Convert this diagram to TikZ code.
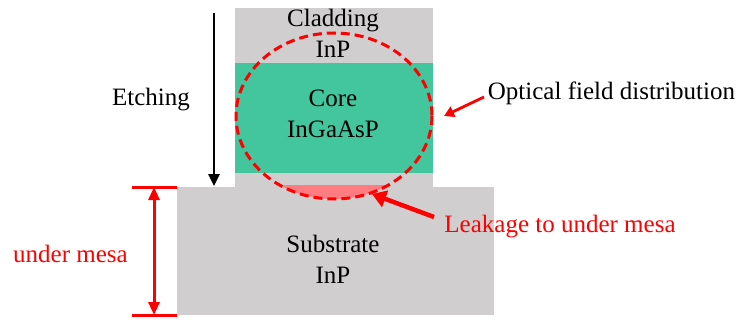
\documentclass[tikz,border=0pt]{standalone}
\usepackage{fontspec}
\setmainfont{Liberation Serif}
\usetikzlibrary{arrows.meta}
\definecolor{layergray}{RGB}{208,206,206}
\definecolor{coregreen}{RGB}{67,197,158}
\definecolor{leakpink}{RGB}{255,124,128}
\definecolor{markred}{RGB}{255,0,0}
\tikzset{
  label text/.style={anchor=base, inner sep=0pt, font=\fontsize{25}{28}\selectfont},
  red text/.style={label text, text=markred},
  layer/.style={fill=layergray, draw=none},
  pointer/.style={draw=markred, line width=2.8pt, -{Triangle[length=10pt,width=11pt]}},
  bold pointer/.style={draw=markred, line width=4.5pt, -{Triangle[length=14pt,width=17pt]}},
  etch arrow/.style={draw=black, line width=2.6pt, -{Triangle[length=12pt,width=11pt]}},
  span arrow/.style={draw=markred, line width=3pt, {Triangle[length=13pt,width=11pt]}-{Triangle[length=13pt,width=11pt]}},
  rule line/.style={draw=markred, line width=3pt},
  field/.style={draw=markred, line width=3pt, dash pattern=on 9pt off 5pt}
}
\begin{document}
\begin{tikzpicture}[x=1pt,y=-1pt]
\useasboundingbox (0,0) rectangle (741,321);

% substrate and ridge
\path[layer] (177,187) rectangle (494,315);
\path[layer] (235,8) rectangle (433,187);
\path[fill=coregreen] (235,63) rectangle (433,172.5);

% leakage of the mode into the substrate
\begin{scope}
  \clip (177,185) rectangle (494,215);
  \fill[leakpink] (334,116) ellipse [x radius=98, y radius=83];
\end{scope}

% optical mode outline
\draw[field] (334,116) ellipse [x radius=98, y radius=83];

% layer labels
\node[label text] (clad) at (333,27) {Cladding};
\node[label text] (cladinp) at (333,57) {InP};
\node[label text] (core) at (333,106) {Core};
\node[label text] (coremat) at (333,137) {InGaAsP};
\node[label text] (sub) at (333,252) {Substrate};
\node[label text] (subinp) at (333,283) {InP};

% etching depth
\node[label text] (etch) at (151,105) {Etching};
\coordinate (etchtop) at (214,13);
\coordinate (etchbot) at (214,186);
\draw[etch arrow] (etchtop) -- (etchbot);

% optical field annotation
\node[label text] (optical) at (611.5,99) {Optical field distribution};
\coordinate (opttail) at (484,97);
\coordinate (opttip) at (444,116);
\draw[pointer] (opttail) -- (opttip);

% leakage annotation
\node[red text] (leak) at (560,232) {Leakage to under mesa};
\coordinate (leaktail) at (434,217);
\coordinate (leaktip) at (372,194);
\draw[bold pointer] (leaktail) -- (leaktip);

% under mesa height
\node[red text] (under) at (70.5,262) {under mesa};
\coordinate (ultop) at (132,187);
\coordinate (urtop) at (177,187);
\coordinate (ulbot) at (132,315);
\coordinate (urbot) at (177,315);
\coordinate (mtop) at (154,187);
\coordinate (mbot) at (154,315);
\draw[rule line] (ultop) -- (urtop);
\draw[rule line] (ulbot) -- (urbot);
\draw[span arrow] (mtop) -- (mbot);
\end{tikzpicture}
\end{document}
